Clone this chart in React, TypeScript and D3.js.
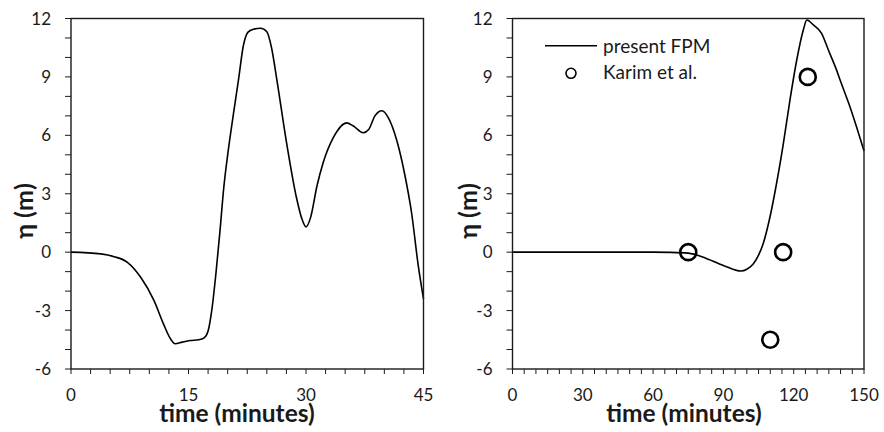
import React from "react";
import * as d3 from "d3";

const leftT = [0, 3.8, 5.5, 7.2, 8.9, 10.6, 11.8, 12.7, 13.3, 14.2, 15.2, 16.3, 17.0, 17.5, 18.0, 18.5, 19.0, 19.5, 20.1, 20.7, 21.4, 22.0, 22.6, 23.3, 24.2, 25.0, 25.6, 26.3, 27.5, 28.8, 29.45, 30.0, 30.6, 31.4, 32.2, 33.5, 35.2, 36.0, 37.3, 38.0, 38.8, 39.7, 40.5, 41.6, 42.6, 43.5, 44.3, 45];
const leftEta = [0, -0.09, -0.23, -0.52, -1.29, -2.49, -3.68, -4.45, -4.7, -4.62, -4.54, -4.5, -4.4, -4.05, -2.9, -1.1, 1.0, 3.3, 5.3, 7.0, 8.9, 10.6, 11.3, 11.45, 11.5, 11.32, 10.5, 8.8, 5.67, 2.77, 1.74, 1.3, 1.8, 3.4, 4.6, 5.89, 6.64, 6.49, 6.13, 6.3, 7.0, 7.26, 6.91, 5.72, 4.0, 1.96, -0.6, -2.4];

const rightT = [0, 30, 60, 67, 75, 82.7, 91.3, 97.5, 100, 102.8, 105, 107, 109.9, 112.7, 115.6, 118.4, 121.3, 124.1, 125.6, 128.4, 131.9, 134.8, 138.3, 139.8, 144, 150];
const rightEta = [0, 0, 0, -0.01, -0.05, -0.32, -0.75, -0.97, -0.88, -0.6, -0.15, 0.45, 1.82, 3.54, 5.59, 7.81, 9.87, 11.41, 11.92, 11.67, 11.24, 10.38, 9.35, 8.84, 7.47, 5.2];

const karimT = [75, 110, 115.5, 126];
const karimEta = [0, -4.5, 0, 9];

const yTicks = [-6, -3, 0, 3, 6, 9, 12];
const leftXTicks = [0, 15, 30, 45];
const rightXTicks = [0, 30, 60, 90, 120, 150];

const xTitle = "time (minutes)";
const yTitle = "η (m)";
const legendLine = "present FPM";
const legendCircle = "Karim et al.";

const FONT = "Lato, 'Open Sans', sans-serif";
const INK = "#1a1a1a";

type PanelProps = {
  x0: number;
  x1: number;
  xMax: number;
  xTicks: number[];
  xMinorStep: number;
  t: number[];
  eta: number[];
  yTitleX: number;
  xTitleX: number;
  children?: React.ReactNode;
};

function Panel({ x0, x1, xMax, xTicks, xMinorStep, t, eta, yTitleX, xTitleX, children }: PanelProps) {
  const top = 18.5;
  const bottom = 369;
  const x = d3.scaleLinear().domain([0, xMax]).range([x0, x1]);
  const y = d3.scaleLinear().domain([-6, 12]).range([bottom, top]);
  const line = d3
    .line<number>()
    .x((_, i) => x(t[i]))
    .y((d) => y(d))
    .curve(d3.curveMonotoneX);
  const yMinor = d3.range(-6, 12.001, 1);
  const xMinor = d3.range(0, xMax + 0.001, xMinorStep);
  return (
    <g>
      {yMinor.map((v) => (
        <line key={"ym" + v} x1={x0 - 6} x2={x0} y1={y(v)} y2={y(v)} stroke={INK} strokeWidth={1} />
      ))}
      {xMinor.map((v) => (
        <line key={"xm" + v} x1={x(v)} x2={x(v)} y1={bottom} y2={bottom + 5} stroke={INK} strokeWidth={1} />
      ))}
      <path d={line(eta) || ""} fill="none" stroke="#000" strokeWidth={1.6} />
      <rect x={x0} y={top} width={x1 - x0} height={bottom - top} fill="none" stroke={INK} strokeWidth={1.4} />
      {yTicks.map((v) => (
        <text key={"yl" + v} x={x0 - 20} y={y(v)} dy="0.36em" textAnchor="end" fontSize={17} fontFamily={FONT} fill={INK}>
          {v}
        </text>
      ))}
      {xTicks.map((v) => (
        <text key={"xl" + v} x={x(v)} y={400.5} textAnchor="middle" fontSize={17} fontFamily={FONT} fill={INK}>
          {v}
        </text>
      ))}
      <text x={xTitleX} y={421.5} textAnchor="middle" fontSize={24.5} fontWeight="bold" fontFamily={FONT} fill={INK}>
        {xTitle}
      </text>
      <text
        transform={`translate(${yTitleX},${211}) rotate(-90)`}
        textAnchor="middle"
        fontSize={25}
        fontWeight="bold"
        fontFamily={FONT}
        fill={INK}
      >
        {yTitle}
      </text>
      {children}
    </g>
  );
}

export default function App() {
  const rx0 = 512.5;
  const rx1 = 864;
  const xr = d3.scaleLinear().domain([0, 150]).range([rx0, rx1]);
  const yr = d3.scaleLinear().domain([-6, 12]).range([369, 18.5]);
  return (
    <svg width={884} height={432} style={{ position: "absolute", left: 0, top: 0, background: "#fff" }}>
      <rect width={884} height={432} fill="#fff" />
      <Panel x0={71} x1={423.5} xMax={45} xTicks={leftXTicks} xMinorStep={2.5} t={leftT} eta={leftEta} yTitleX={33} xTitleX={237} />
      <Panel x0={rx0} x1={rx1} xMax={150} xTicks={rightXTicks} xMinorStep={5} t={rightT} eta={rightEta} yTitleX={477} xTitleX={684}>
        {karimT.map((v, i) => (
          <circle key={"k" + i} cx={xr(v)} cy={yr(karimEta[i])} r={8} fill="none" stroke="#000" strokeWidth={2.6} />
        ))}
        <line x1={545} x2={597} y1={45.7} y2={45.7} stroke="#000" strokeWidth={1.6} />
        <text x={603} y={52.5} fontSize={19} fontFamily={FONT} fill={INK}>
          {legendLine}
        </text>
        <circle cx={571} cy={73.3} r={5} fill="none" stroke="#000" strokeWidth={1.6} />
        <text x={603} y={79} fontSize={19} fontFamily={FONT} fill={INK}>
          {legendCircle}
        </text>
      </Panel>
    </svg>
  );
}
